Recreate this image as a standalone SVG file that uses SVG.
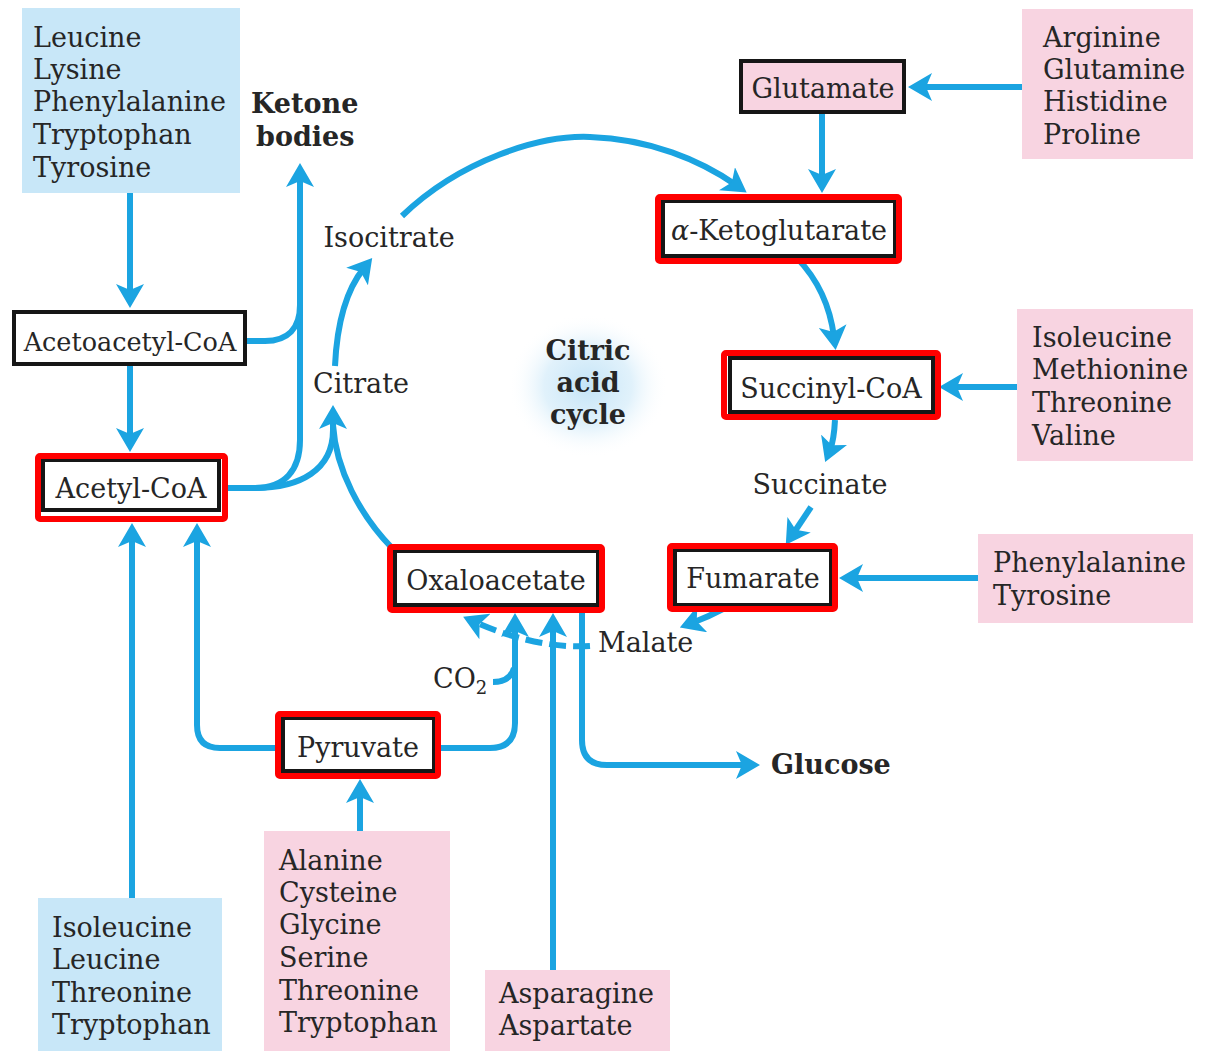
<svg xmlns="http://www.w3.org/2000/svg" width="1211" height="1051" viewBox="0 0 1211 1051">
  <defs>
    <style>
      text { font-family: "DejaVu Serif", "Liberation Serif", serif; font-size: 27px; fill: #262626; }
      .b { font-weight: bold; }
      .mid { text-anchor: middle; }
      .blue { fill: #c8e7f8; }
      .pink { fill: #f8d4e1; }
      .box { fill: #ffffff; stroke: #161616; stroke-width: 4; }
      .pbox { fill: #f8d4e1; stroke: #161616; stroke-width: 4; }
      .red { fill: none; stroke: #ff0000; stroke-width: 6; }
      .flow { fill: none; stroke: #1ba4e1; stroke-width: 6; }
      .arr { marker-end: url(#head); }
      .dash { stroke-dasharray: 17 7; }
    </style>
    <marker id="head" viewBox="0 0 24 28" refX="11" refY="14" markerWidth="24" markerHeight="28" markerUnits="userSpaceOnUse" orient="auto">
      <path d="M0,0 L24,14 L0,28 L6,14 Z" fill="#1ba4e1"/>
    </marker>
    <radialGradient id="glow" cx="0.5" cy="0.5" r="0.5">
      <stop offset="0" stop-color="#c4e4f7"/>
      <stop offset="0.55" stop-color="#d9eefa" stop-opacity="0.8"/>
      <stop offset="1" stop-color="#ffffff" stop-opacity="0"/>
    </radialGradient>
  </defs>

  <rect width="1211" height="1051" fill="#ffffff"/>

  <!-- cycle centre label -->
  <g id="cycle-label">
    <ellipse cx="588" cy="386" rx="80" ry="72" fill="url(#glow)"/>
    <text class="b mid" x="588" y="360">Citric</text>
    <text class="b mid" x="588" y="392">acid</text>
    <text class="b mid" x="588" y="424">cycle</text>
  </g>

  <!-- connectors -->
  <g id="connectors">
    <!-- ketogenic amino acids -->
    <path class="flow arr" d="M130,193 L130,295"/>
    <path class="flow arr" d="M130,366 L130,439"/>
    <!-- to ketone bodies / citrate -->
    <path class="flow arr" d="M226,488 L255,488 C285,488 300,470 300,440 L300,176"/>
    <path class="flow" d="M245,341 L265,341 C288,341 300,328 300,305"/>
    <path class="flow arr" d="M255,488 C300,488 333,470 333,430 L333,418"/>
    <path class="flow" d="M392,548 C360,515 336,470 333,425"/>
    <!-- cycle -->
    <path class="flow arr" d="M335,366 Q338,300 364,268"/>
    <path class="flow arr" d="M402,216 C460,160 540,135 590,137 C650,139 700,160 736,185"/>
    <path class="flow arr" d="M797,258 Q828,290 834,337"/>
    <path class="flow arr" d="M835,420 Q834,440 830,450"/>
    <path class="flow arr" d="M811,507 L793,534"/>
    <path class="flow arr" d="M725,608 Q708,617 692,623"/>
    <path class="flow arr dash" d="M590,646 C560,648 520,642 475,622"/>
    <!-- glutamate family -->
    <path class="flow arr" d="M822,113 L822,180"/>
    <path class="flow arr" d="M1025,87 L921,87"/>
    <!-- side entries -->
    <path class="flow arr" d="M1017,387 L952,387"/>
    <path class="flow arr" d="M979,578 L852,578"/>
    <!-- pyruvate routes -->
    <path class="flow arr" d="M438,748 L490,748 Q515,748 515,723 L515,626"/>
    <path class="flow" d="M493,682 Q510,682 514,668"/>
    <path class="flow arr" d="M278,748 L220,748 Q197,748 197,725 L197,536"/>
    <path class="flow arr" d="M132,898 L132,536"/>
    <path class="flow arr" d="M360,831 L360,792"/>
    <path class="flow arr" d="M553,970 L553,626"/>
    <!-- gluconeogenesis -->
    <path class="flow arr" d="M582,606 L582,740 Q582,765 607,765 L747,765"/>
  </g>

  <!-- free labels -->
  <g id="ketone-bodies"><text class="b" x="251" y="113">Ketone</text><text class="b" x="256" y="146">bodies</text></g>
  <g id="isocitrate"><text class="mid" x="389" y="247">Isocitrate</text></g>
  <g id="citrate"><text class="mid" x="361" y="393">Citrate</text></g>
  <g id="succinate"><text class="mid" x="820" y="494">Succinate</text></g>
  <g id="malate"><text x="598" y="652">Malate</text></g>
  <g id="co2"><text x="433" y="688">CO<tspan font-size="18" dy="6">2</tspan></text></g>
  <g id="glucose"><text class="b" x="771" y="774">Glucose</text></g>

  <!-- amino acid groups -->
  <g id="aa-ketogenic">
    <rect class="blue" x="22" y="8" width="218" height="185"/>
    <text x="33" y="47">Leucine</text>
    <text x="33" y="79">Lysine</text>
    <text x="33" y="111">Phenylalanine</text>
    <text x="33" y="144">Tryptophan</text>
    <text x="33" y="177">Tyrosine</text>
  </g>
  <g id="aa-glutamate">
    <rect class="pink" x="1022" y="9" width="171" height="150"/>
    <text x="1043" y="47">Arginine</text>
    <text x="1043" y="79">Glutamine</text>
    <text x="1043" y="111">Histidine</text>
    <text x="1043" y="144">Proline</text>
  </g>
  <g id="aa-succinyl">
    <rect class="pink" x="1017" y="309" width="176" height="152"/>
    <text x="1032" y="347">Isoleucine</text>
    <text x="1032" y="379">Methionine</text>
    <text x="1032" y="412">Threonine</text>
    <text x="1032" y="445">Valine</text>
  </g>
  <g id="aa-fumarate">
    <rect class="pink" x="978" y="534" width="215" height="89"/>
    <text x="993" y="572">Phenylalanine</text>
    <text x="993" y="605">Tyrosine</text>
  </g>
  <g id="aa-acetyl">
    <rect class="blue" x="38" y="898" width="184" height="153"/>
    <text x="52" y="937">Isoleucine</text>
    <text x="52" y="969">Leucine</text>
    <text x="52" y="1002">Threonine</text>
    <text x="52" y="1034">Tryptophan</text>
  </g>
  <g id="aa-pyruvate">
    <rect class="pink" x="264" y="831" width="186" height="220"/>
    <text x="279" y="870">Alanine</text>
    <text x="279" y="902">Cysteine</text>
    <text x="279" y="934">Glycine</text>
    <text x="279" y="967">Serine</text>
    <text x="279" y="1000">Threonine</text>
    <text x="279" y="1032">Tryptophan</text>
  </g>
  <g id="aa-oxaloacetate">
    <rect class="pink" x="485" y="970" width="185" height="81"/>
    <text x="499" y="1003">Asparagine</text>
    <text x="499" y="1035">Aspartate</text>
  </g>

  <!-- intermediates -->
  <g id="acetoacetyl-coa">
    <rect class="box" x="14" y="312" width="231" height="52"/>
    <text class="mid" x="130" y="351" style="font-size:25.5px">Acetoacetyl-CoA</text>
  </g>
  <g id="acetyl-coa">
    <rect class="box" x="43" y="460" width="176" height="50"/>
    <rect class="red" x="38" y="456" width="187" height="63" rx="2"/>
    <text class="mid" x="131" y="498">Acetyl-CoA</text>
  </g>
  <g id="glutamate">
    <rect class="pbox" x="741" y="61" width="163" height="51"/>
    <text class="mid" x="823" y="98">Glutamate</text>
  </g>
  <g id="alpha-ketoglutarate">
    <rect class="box" x="663" y="201" width="232" height="55"/>
    <rect class="red" x="658" y="197" width="241" height="64" rx="2"/>
    <text class="mid" x="779" y="240"><tspan font-style="italic">α</tspan>-Ketoglutarate</text>
  </g>
  <g id="succinyl-coa">
    <rect class="box" x="730" y="358" width="203" height="54"/>
    <rect class="red" x="724" y="353" width="214" height="64" rx="2"/>
    <text class="mid" x="831" y="398">Succinyl-CoA</text>
  </g>
  <g id="fumarate">
    <rect class="box" x="675" y="550" width="156" height="55"/>
    <rect class="red" x="670" y="546" width="165" height="63" rx="2"/>
    <text class="mid" x="753" y="588">Fumarate</text>
  </g>
  <g id="oxaloacetate">
    <rect class="box" x="395" y="551" width="203" height="54"/>
    <rect class="red" x="390" y="547" width="212" height="63" rx="2"/>
    <text class="mid" x="496" y="590">Oxaloacetate</text>
  </g>
  <g id="pyruvate">
    <rect class="box" x="283" y="718" width="151" height="53"/>
    <rect class="red" x="278" y="714" width="160" height="62" rx="2"/>
    <text class="mid" x="358" y="757">Pyruvate</text>
  </g>
</svg>
